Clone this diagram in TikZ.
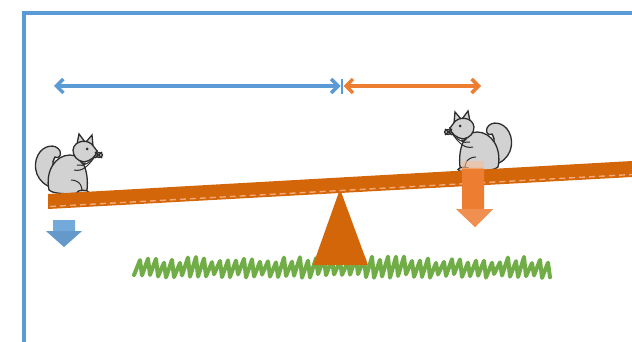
\documentclass[tikz,border=0pt]{standalone}
\usepackage{tikz}
\usetikzlibrary{arrows.meta}

\definecolor{framblue}{RGB}{91,155,213}
\definecolor{spanorange}{RGB}{237,125,49}
\definecolor{plankorange}{RGB}{212,102,10}
\definecolor{dashorange}{RGB}{244,170,120}
\definecolor{grassgreen}{RGB}{112,173,71}
\definecolor{furgrey}{RGB}{210,210,210}
\definecolor{ink}{RGB}{45,45,45}

\tikzset{
x=1pt, y=-1pt, % one unit is one pixel, y runs downwards
frame/.style={draw=framblue, line width=4}, % the open box round the scene
span/.style={line width=3.5, line cap=round, {Straight Barb[length=7pt,width=14pt]}-{Straight Barb[length=7pt,width=14pt]}}, % the lever arms
plank/.style={fill=plankorange}, % the board and its pivot
grass/.style={draw=grassgreen, line width=4, line cap=round, line join=round}, % scribbled ground
fur/.style={fill=furgrey, draw=ink, line width=1.3}, % squirrel body parts
squirrel/.pic={
  % tail
  \filldraw[fur] (-14,-6) .. controls (-32,-10) and (-36,-28) .. (-30,-39)
      .. controls (-25,-49) and (-12,-51) .. (-8,-43)
      .. controls (-6,-38) and (-10,-35) .. (-13,-37)
      .. controls (-17,-30) and (-15,-24) .. (-10,-20) -- cycle;
  \draw[ink, line width=1.4, dash pattern=on 2pt off 1.5pt] (-13,-37) .. controls (-17,-30) and (-15,-24) .. (-10,-19);
  % body
  \filldraw[fur] (-19,-4) .. controls (-23,-22) and (-13,-39) .. (2,-39)
      .. controls (15,-39) and (21,-22) .. (19,-4)
      .. controls (15,1) and (-15,1) .. (-19,-4) -- cycle;
  % ears and head
  \filldraw[fur] (9,-50) -- (11,-60) -- (17,-52) -- cycle;
  \filldraw[fur] (18,-52) -- (24,-59) -- (25,-48) -- cycle;
  \filldraw[fur] (5,-44) .. controls (6,-54) and (21,-56) .. (26,-47) -- (29,-43)
      .. controls (28,-37) and (22,-33) .. (16,-32)
      .. controls (9,-33) and (5,-38) .. (5,-44) -- cycle;
  \fill[ink] (19,-45) circle [radius=1.5];
  \fill[ink] (29,-43) circle [radius=1.1];
  % nut held up to the mouth
  \filldraw[fur] (31,-39) ellipse [x radius=3.5, y radius=2.5];
  \draw[ink, line width=1.3] (27,-42) -- (34,-36) (27,-36) -- (34,-42);
  % arms, leg and foot
  \draw[ink, line width=1] (12,-33) .. controls (14,-30) and (16,-29) .. (18,-31);
  \draw[ink, line width=1] (9,-29) .. controls (16,-27) and (22,-32) .. (27,-37);
  \draw[ink, line width=1] (6,-24) .. controls (14,-22) and (20,-28) .. (25,-35);
  \draw[ink, line width=1] (3,-14) .. controls (12,-14) and (16,-6) .. (13,-1);
  \filldraw[fur] (15,-1.5) ellipse [x radius=6, y radius=2.2];
}
}

\begin{document}
\begin{tikzpicture}
\useasboundingbox (0,0) rectangle (632,342);

% box
\draw[frame] (23.5,344) -- (23.5,13.5) -- (634,13.5);

% ground
\pgfmathsetseed{11}
\draw[grass] (134,275) \foreach \i in {0,...,51} {
  -- ({140+8*\i},{260+3.5*rand}) -- ({142+8*\i},{276+2*rand}) };

% pivot
\fill[plank] (340,189) -- (368,265) -- (313,265) -- cycle;

% squirrels
\pic (leftsq) at (68,194) {squirrel};
\pic[xscale=-1] (rightsq) at (479,171) {squirrel};

% board
\fill[plank] (48,194) -- (632,161) -- (632,177) -- (48,209) -- cycle;
\draw[dashorange, line width=1.4, dash pattern=on 6pt off 4pt] (50,206.5) -- (632,174.5);

% forces
\fill[spanorange] (462,168) -- (484,168) -- (484,209) -- (493,209) -- (475,227) -- (456,209) -- (462,209) -- cycle;
\fill[spanorange!50!white, fill opacity=0.6] (462,161) rectangle (484,169);
\fill[spanorange!70!white, fill opacity=0.5] (456,209) -- (493,209) -- (475,227) -- cycle;
\fill[framblue!85!white] (53,220) -- (75,220) -- (75,231) -- (82,231) -- (64,247) -- (46,231) -- (53,231) -- cycle;
\fill[framblue!80!black, fill opacity=0.35] (46,231) -- (82,231) -- (64,247) -- cycle;

% lever arms
\coordinate (lend) at (54,86);
\coordinate (bend) at (340.5,86);
\coordinate (oend) at (343.5,86);
\coordinate (rend) at (481,86);
\coordinate (ticktop) at (342,79);
\coordinate (tickbot) at (342,94);
\draw[span, framblue] (lend) -- (bend);
\draw[span, spanorange] (oend) -- (rend);
\draw[framblue, line width=1.6] (ticktop) -- (tickbot);

\end{tikzpicture}
\end{document}
